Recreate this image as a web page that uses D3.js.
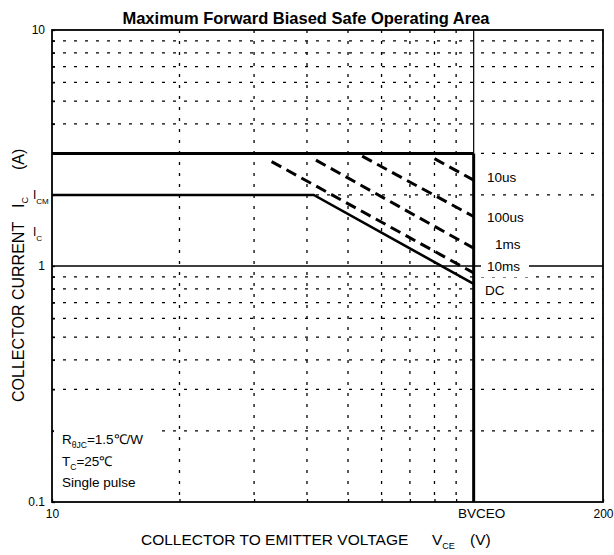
<!DOCTYPE html>
<html lang="en">
<head>
<meta charset="UTF-8">
<title>Maximum Forward Biased Safe Operating Area</title>
<script src="https://d3js.org/d3.v7.min.js"></script>
<style>
  body { margin: 0; background: #fff; }
  svg { font-family: "Liberation Sans", Arial, sans-serif; }
  .grid { stroke: #000; stroke-width: 1.3; stroke-dasharray: 3,8; fill: none; }
  .axis text { font-size: 12px; fill: #000; }
  .axis line { stroke: #000; stroke-width: 1.3; }
</style>
</head>
<body>
<div id="chart"></div>
<script>
// ---- data ----
const xGridValues = [20, 30, 40, 50, 60, 70, 80, 90];
const yGridValues = [0.2, 0.3, 0.4, 0.5, 0.6, 0.7, 0.8, 0.9, 2, 3, 4, 5, 6, 7, 8, 9];
const yLabelValues = [0.1, 1, 10];
const xLabelValues = [10, 200];
const bvceo = 99;          // V
const icm = 3;             // A, pulsed
const dcV = [10, 41.5, 99];
const dcI = [2, 2, 0.84];
const pulseLabels = ["10us", "100us", "1ms", "10ms"];
const pulseStartV = [80, 54, 42, 33];
const pulseStartI = [2.85, 2.92, 2.81, 2.77];
const pulseEndI = [2.31, 1.62, 1.19, 0.935];

// ---- layout ----
const W = 614, H = 555;
const pLeft = 52, pRight = 603, pTop = 30, pBottom = 502;

const svg = d3.select("#chart").append("svg")
    .attr("width", W).attr("height", H);

const x = d3.scaleLog().domain([10, 200]).range([pLeft, pRight]);
const y = d3.scaleLog().domain([0.1, 10]).range([pBottom, pTop]);

// title
svg.append("text")
    .attr("x", 306).attr("y", 24)
    .attr("text-anchor", "middle")
    .style("font-size", "16.5px").style("font-weight", "bold")
    .text("Maximum Forward Biased Safe Operating Area");

// dotted grid
svg.selectAll(".hgrid").data(yGridValues).enter().append("line")
    .attr("class", "grid")
    .attr("x1", pLeft).attr("x2", pRight)
    .attr("y1", d => y(d)).attr("y2", d => y(d));

svg.selectAll(".vgrid").data(xGridValues).enter().append("line")
    .attr("class", "grid")
    .attr("x1", d => x(d)).attr("x2", d => x(d))
    .attr("y1", pTop).attr("y2", pBottom);

// solid line at 1 A
svg.append("line")
    .attr("x1", pLeft).attr("x2", pRight)
    .attr("y1", y(1)).attr("y2", y(1))
    .attr("stroke", "#000").attr("stroke-width", 1.3);

// axes (inward ticks, labels only at decades)
svg.append("g").attr("class", "axis")
    .attr("transform", "translate(" + pLeft + ",0)")
    .call(d3.axisLeft(y).tickValues(yLabelValues.concat(yGridValues))
        .tickSizeInner(-3).tickSizeOuter(0).tickPadding(7)
        .tickFormat(d => yLabelValues.includes(d) ? d3.format("~g")(d) : ""))
    .call(g => g.select(".domain").remove());

svg.append("g").attr("class", "axis")
    .attr("transform", "translate(0," + pBottom + ")")
    .call(d3.axisBottom(x).tickValues(xLabelValues.concat(xGridValues))
        .tickSizeInner(-3).tickSizeOuter(0).tickPadding(7)
        .tickFormat(d => xLabelValues.includes(d) ? d : ""))
    .call(g => g.select(".domain").remove());

svg.append("text")
    .attr("x", x(bvceo) + 8).attr("y", 518)
    .attr("text-anchor", "middle")
    .style("font-size", "13.5px")
    .text("BVCEO");

// frame
svg.append("rect")
    .attr("x", pLeft).attr("y", pTop)
    .attr("width", pRight - pLeft).attr("height", pBottom - pTop)
    .attr("fill", "none").attr("stroke", "#000").attr("stroke-width", 1.8);

// BVCEO vertical: thin above ICM, thick below
svg.append("line")
    .attr("x1", x(bvceo)).attr("x2", x(bvceo))
    .attr("y1", pTop).attr("y2", y(icm))
    .attr("stroke", "#000").attr("stroke-width", 1.2);
svg.append("line")
    .attr("x1", x(bvceo)).attr("x2", x(bvceo))
    .attr("y1", y(icm)).attr("y2", pBottom)
    .attr("stroke", "#000").attr("stroke-width", 3);

// ICM limit
svg.append("line")
    .attr("x1", x(10)).attr("x2", x(bvceo))
    .attr("y1", y(icm)).attr("y2", y(icm))
    .attr("stroke", "#000").attr("stroke-width", 3);

// DC curve
const line = d3.line().x(d => x(d[0])).y(d => y(d[1]));
svg.append("path")
    .datum(dcV.map((v, i) => [v, dcI[i]]))
    .attr("d", line)
    .attr("fill", "none").attr("stroke", "#000").attr("stroke-width", 2.6);

// pulse curves
svg.selectAll(".pulse").data(pulseLabels).enter().append("path")
    .attr("d", (d, i) => line([[pulseStartV[i], pulseStartI[i]], [bvceo, pulseEndI[i]]]))
    .attr("fill", "none").attr("stroke", "#000")
    .attr("stroke-width", 3).attr("stroke-dasharray", "11,6");

// curve labels
const labelPos = [[487, 182], [487, 222], [495, 249], [487, 271]];
const lbl = svg.selectAll(".plabel").data(pulseLabels).enter().append("g");
lbl.append("rect")
    .attr("x", (d, i) => labelPos[i][0] - 6).attr("y", (d, i) => labelPos[i][1] - 12)
    .attr("width", (d, i) => i === 3 ? 48 : 0).attr("height", 18)
    .attr("fill", "#fff");
lbl.append("text")
    .attr("x", (d, i) => labelPos[i][0]).attr("y", (d, i) => labelPos[i][1])
    .style("font-size", "13.5px")
    .text(d => d);

svg.append("rect").attr("x", 480).attr("y", 283).attr("width", 30).attr("height", 16).attr("fill", "#fff");
svg.append("text").attr("x", 485).attr("y", 295).style("font-size", "13.5px").text("DC");

// I_CM / I_C markers by the axis
const icmT = svg.append("text").attr("x", 33).attr("y", 199).style("font-size", "12px");
icmT.append("tspan").text("I");
icmT.append("tspan").attr("dy", 5).style("font-size", "8px").text("CM");
const icT = svg.append("text").attr("x", 33).attr("y", 236).style("font-size", "12px");
icT.append("tspan").text("I");
icT.append("tspan").attr("dy", 5).style("font-size", "8px").text("C");

// conditions box
svg.append("rect").attr("x", 54).attr("y", 424).attr("width", 100).attr("height", 72).attr("fill", "#fff");
const r = svg.append("text").attr("x", 62).attr("y", 444).style("font-size", "13.5px");
r.append("tspan").text("R");
r.append("tspan").attr("dy", 4).style("font-size", "8.5px").text("θJC");
r.append("tspan").attr("dy", -4).text("=1.5℃/W");
const t = svg.append("text").attr("x", 62).attr("y", 466).style("font-size", "13.5px");
t.append("tspan").text("T");
t.append("tspan").attr("dy", 4).style("font-size", "8.5px").text("C");
t.append("tspan").attr("dy", -4).text("=25℃");
svg.append("text").attr("x", 62).attr("y", 487).style("font-size", "13.5px").text("Single pulse");

// axis titles
const xt = svg.append("text").attr("x", 141).attr("y", 545).style("font-size", "15.5px");
xt.append("tspan").text("COLLECTOR TO EMITTER VOLTAGE");
xt.append("tspan").attr("x", 432).text("V");
xt.append("tspan").attr("dy", 4).style("font-size", "9px").text("CE");
xt.append("tspan").attr("x", 470).attr("dy", -4).text("(V)");

const yt = svg.append("text")
    .attr("transform", "translate(24,402) rotate(-90)")
    .style("font-size", "16px");
yt.append("tspan").attr("x", 0).text("COLLECTOR CURRENT");
yt.append("tspan").attr("x", 194).text("I");
yt.append("tspan").attr("dy", 4).style("font-size", "9px").text("C");
yt.append("tspan").attr("x", 232).attr("dy", -4).text("(A)");
</script>
</body>
</html>
